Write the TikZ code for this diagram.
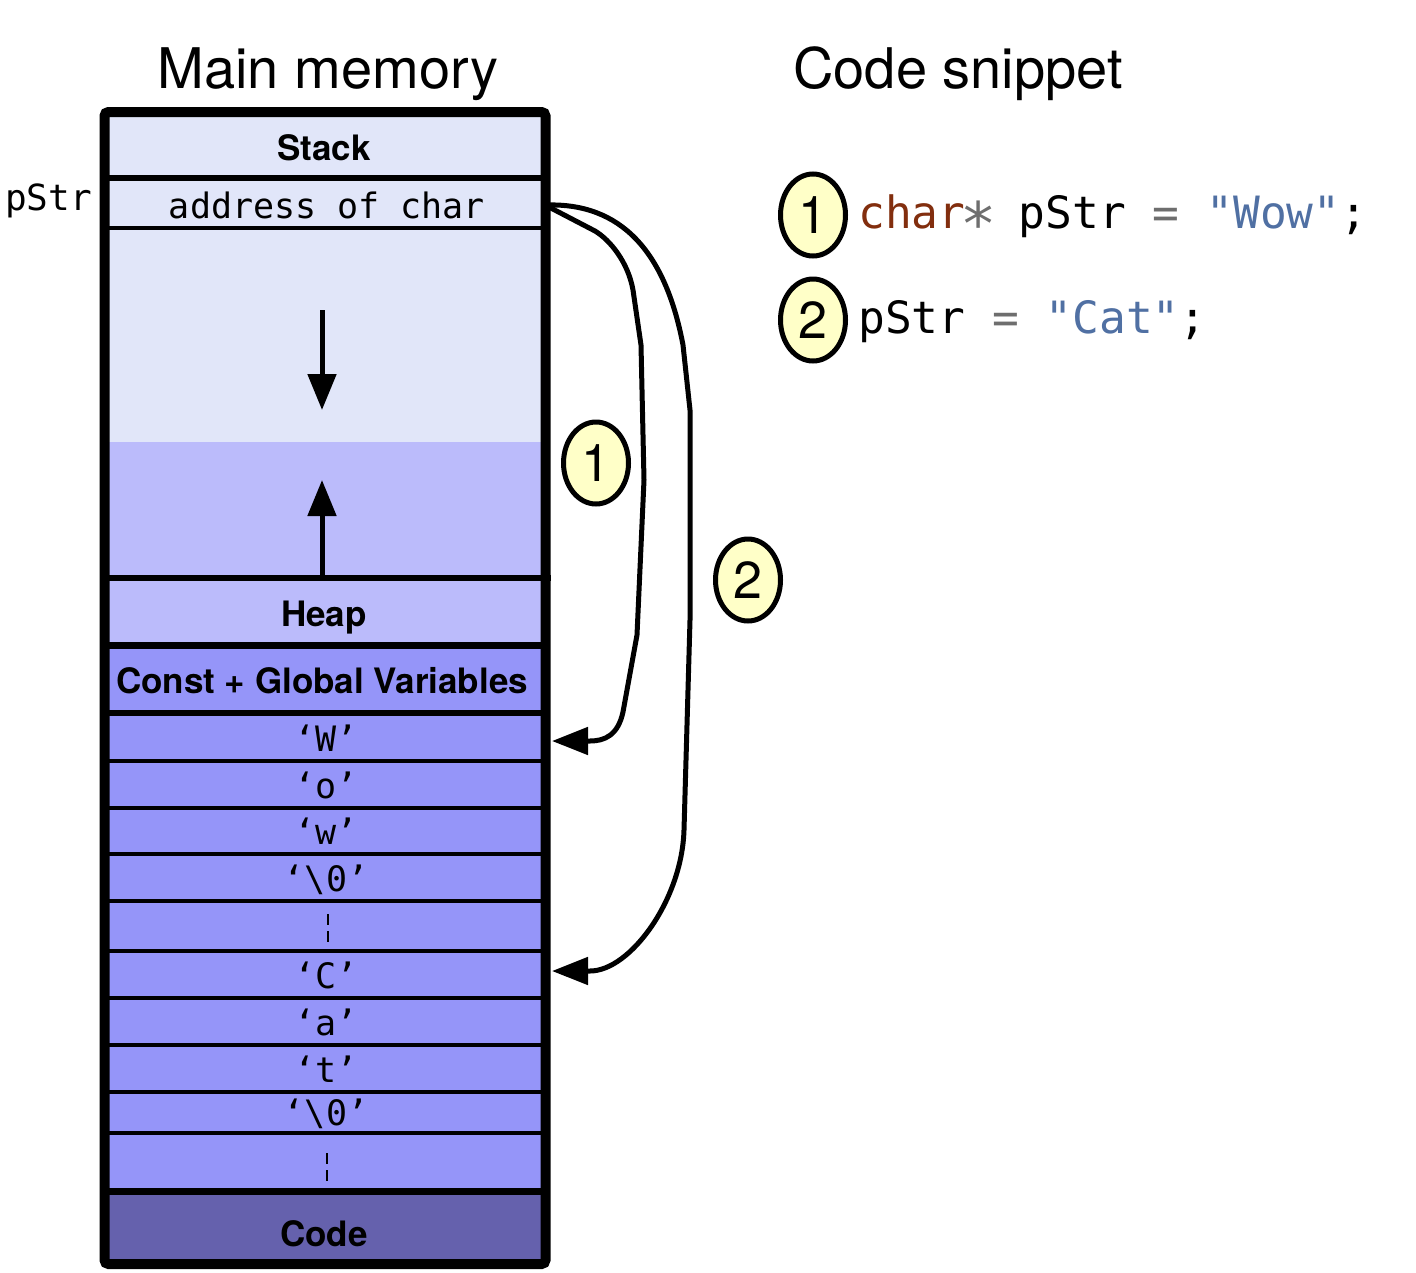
\documentclass[tikz,border=0pt]{standalone}
\usepackage{fontspec}
\setmainfont{TeX Gyre Heros}
\setmonofont{DejaVu Sans Mono}
\usetikzlibrary{arrows.meta,shapes.geometric,calc}
\definecolor{stackc}{RGB}{225,230,249}
\definecolor{heapc}{RGB}{187,187,251}
\definecolor{constc}{RGB}{149,149,249}
\definecolor{codec}{RGB}{101,97,173}
\definecolor{yel}{RGB}{255,255,200}
\definecolor{kw}{RGB}{130,46,14}
\definecolor{op}{RGB}{110,110,110}
\definecolor{strc}{RGB}{80,112,163}
\newcommand{\bigstar}{\makebox[0.602em][c]{\raisebox{-0.4em}{\scalebox{1.35}{*}}}}
\begin{document}
\begin{tikzpicture}[x=1pt,y=-1pt,
  cell/.style={rectangle, inner sep=0pt, outer sep=0pt, minimum width=432pt, draw=none},
  lbl/.style={anchor=base, inner sep=0pt, font=\fontsize{35}{40}\selectfont\bfseries},
  mono/.style={anchor=base, inner sep=0pt, font=\fontsize{35}{40}\selectfont\ttfamily},
  title/.style={anchor=base, inner sep=0pt, font=\fontsize{56}{64}\selectfont},
  badge/.style={ellipse, draw, line width=5pt, fill=yel, minimum width=65pt, minimum height=82pt, inner sep=0pt, font=\fontsize{52}{60}\selectfont},
  ptr/.style={line width=5pt, -{Triangle[length=36pt,width=27pt]}},
  growarr/.style={line width=5pt, -{Triangle[length=36pt,width=28pt]}},
  dots/.style={line width=2pt, dash pattern=on 11pt off 6pt},
]
\useasboundingbox (0,0) rectangle (1416,1272);
\fill[white] (0,0) rectangle (1416,1272);

% titles
\node[title] (t1) at (328,88) {Main memory};
\node[title] (t2) at (958,88) {Code snippet};

% memory cells
\node[cell, fill=stackc, minimum height=66pt] (stack) at (325,145) {};
\node[cell, fill=stackc, minimum height=50pt] (addr) at (325,203) {};
\node[cell, fill=stackc, minimum height=214pt] (sfree) at (325,335) {};
\node[cell, fill=heapc, minimum height=136pt] (hfree) at (325,510) {};
\node[cell, fill=heapc, minimum height=67pt] (heap) at (325,611.5) {};
\node[cell, fill=constc, minimum height=68pt] (const) at (325,679) {};
\node[cell, fill=constc, minimum height=48pt] (cW) at (325,737) {};
\node[cell, fill=constc, minimum height=47pt] (co) at (325,784) {};
\node[cell, fill=constc, minimum height=47pt] (cw) at (325,830.5) {};
\node[cell, fill=constc, minimum height=47pt] (cz1) at (325,877.5) {};
\node[cell, fill=constc, minimum height=50pt] (cd1) at (325,925.5) {};
\node[cell, fill=constc, minimum height=48pt] (cC) at (325,974) {};
\node[cell, fill=constc, minimum height=47pt] (ca) at (325,1021.5) {};
\node[cell, fill=constc, minimum height=47pt] (ct) at (325,1068.5) {};
\node[cell, fill=constc, minimum height=41pt] (cz2) at (325,1112.5) {};
\node[cell, fill=constc, minimum height=58pt] (cd2) at (325,1162) {};
\node[cell, fill=codec, minimum height=73pt] (code) at (325,1227.5) {};

% separators
\draw[line width=6pt] (108,178) -- (542,178);
\draw[line width=4pt] (108,228) -- (542,228);
\draw[line width=6pt] (108,578) -- (551,578);
\draw[line width=7pt] (108,645) -- (542,645);
\draw[line width=6pt] (108,713) -- (542,713);
\foreach \yy in {761,807.5,854,901,950.5,998,1045,1092,1133}
  \draw[line width=4pt] (108,\yy) -- (542,\yy);
\draw[line width=7pt] (108,1191) -- (542,1191);

% outer frame
\draw[line width=10pt, rounded corners=4pt] (104.5,112) rectangle (545.5,1264);

% labels
\node[lbl] (lstack) at (324,160) {Stack};
\node[lbl] (lheap) at (324,626) {Heap};
\node[lbl] (lconst) at (322,693) {Const + Global Variables};
\node[lbl] (lcode) at (324,1246) {Code};
\node[mono] (laddr) at (327,218) {address of char};
\node[mono, anchor=base west, font=\fontsize{36}{40}\selectfont\ttfamily] (lpstr) at (5,210) {pStr};
\node[mono] (lW) at (326,751) {‘W’};
\node[mono] (lo) at (326,798) {‘o’};
\node[mono] (lw) at (326,844.5) {‘w’};
\node[mono] (lz1) at (326,891.5) {‘\textbackslash 0’};
\node[mono] (lC) at (326,988) {‘C’};
\node[mono] (la) at (326,1035.5) {‘a’};
\node[mono] (lt) at (326,1082.5) {‘t’};
\node[mono] (lz2) at (326,1125) {‘\textbackslash 0’};
\draw[dots] (328,914) -- (328,944);
\draw[dots] (327,1153) -- (327,1183);

% growth arrows
\coordinate (sdA) at (322,310);
\coordinate (sdB) at (322,410);
\coordinate (huA) at (322,578);
\coordinate (huB) at (322,480);
\draw[growarr] (sdA) -- (sdB);
\draw[growarr] (huA) -- (huB);

% pointer arrows
\coordinate (tipW) at ($(cW.east)+(11,4)$);
\coordinate (tipC) at ($(cC.east)+(11,-3)$);
\draw[ptr] ($(addr.east)+(6,3)$) -- (595,231) .. controls (610,240) and (628,262) .. (633,290)
  -- (641,345) -- (644,480) -- (637,635) -- (623,712)
  .. controls (618,735) and (605,741) .. (590,741) -- (tipW);
\draw[ptr] ($(addr.east)+(6,2)$) .. controls (620,203) and (665,250) .. (683,345)
  -- (690,410) -- (690,620) -- (684,830)
  .. controls (682,900) and (630,971) .. (590,971) -- (tipC);

% badges
\node[badge] (b1) at (596,463) {1};
\node[badge] (b2) at (748,580) {2};
\node[badge] (b3) at (813,215) {1};
\node[badge] (b4) at (813,320) {2};

% code snippet
\node[anchor=base west, inner sep=0pt, font=\fontsize{44.5}{50}\selectfont\ttfamily] (code1) at (858,228)
  {\textcolor{kw}{char}\textcolor{op}{\bigstar} pStr \textcolor{op}{=} \textcolor{strc}{"Wow"};};
\node[anchor=base west, inner sep=0pt, font=\fontsize{44.5}{50}\selectfont\ttfamily] (code2) at (858,333)
  {pStr \textcolor{op}{=} \textcolor{strc}{"Cat"};};
\end{tikzpicture}
\end{document}
